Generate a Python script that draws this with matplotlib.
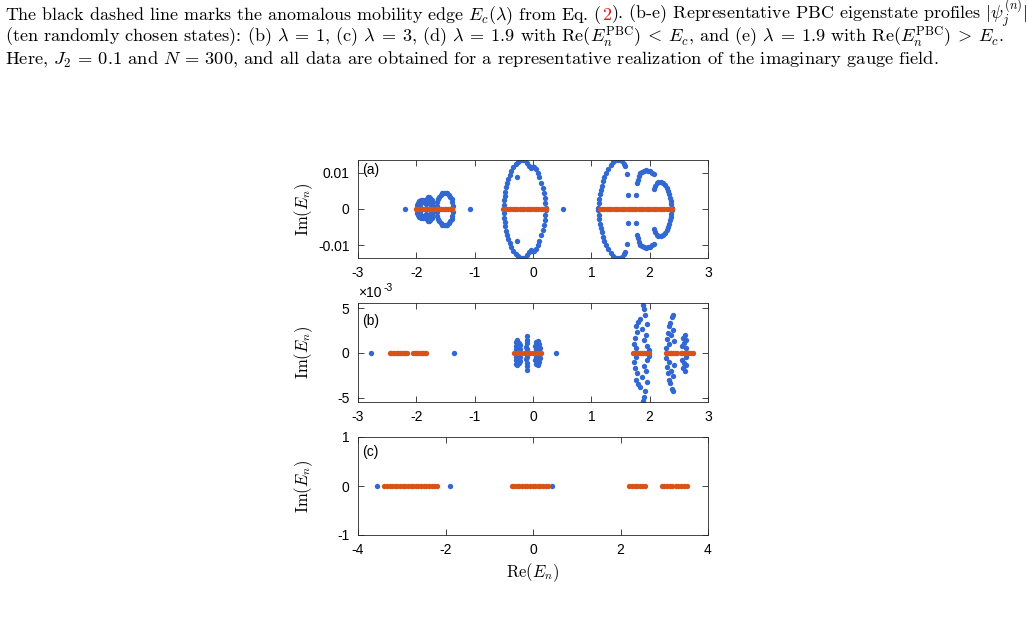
import numpy as np
import matplotlib
matplotlib.use("Agg")
import matplotlib.pyplot as plt

plt.rcParams["mathtext.fontset"] = "cm"
plt.rcParams["axes.unicode_minus"] = False
plt.rcParams["font.family"] = ["Liberation Sans", "DejaVu Sans"]

BLUE = "#3168d2"
ORANGE = "#d95319"

# ---------------- panel (a) ----------------
# blue: upper half of complex-conjugate pairs (x = Re, y = Im)
a_blue_x = [-1.99, -1.985, -1.97, -1.95, -1.92, -1.89, -1.86, -1.83, -1.80,
            -1.82, -1.80, -1.78, -1.76, -1.74, -1.725, -1.72,
            -1.96, -1.93, -1.90, -1.86, -1.83, -1.79, -1.76,
            -1.373, -1.382, -1.397, -1.416, -1.44, -1.467, -1.495, -1.525,
            -1.553, -1.58, -1.604, -1.623, -1.638, -1.647,
            -0.495, -0.49, -0.482, -0.472, -0.46, -0.445, -0.425, -0.40, -0.37,
            -0.335, -0.295, -0.25, -0.205, -0.165, -0.13, -0.10, -0.07, -0.04,
            -0.01, 0.02, 0.05, 0.08, 0.11, 0.14, 0.165, 0.185, 0.20, 0.21, 0.215,
            -0.28,
            1.12, 1.125, 1.135, 1.148, 1.163, 1.18, 1.20, 1.225, 1.255, 1.29,
            1.33, 1.375, 1.42, 1.46, 1.50, 1.53, 1.555, 1.575,
            1.61, 1.63, 1.77, 1.785,
            1.80, 1.815, 1.84, 1.87, 1.905, 1.94, 1.975, 2.01, 2.045, 2.075,
            2.07, 2.09, 2.12, 2.15, 2.19, 2.23, 2.26, 2.29, 2.315, 2.335,
            2.35, 2.362, 2.372, 2.377]
a_blue_y = [0.0004, 0.0011, 0.0017, 0.0022, 0.0025, 0.0026, 0.0026, 0.0024, 0.0020,
            0.0028, 0.0032, 0.0033, 0.0031, 0.0025, 0.0017, 0.0008,
            0.0008, 0.0012, 0.0018, 0.0020, 0.0015, 0.0022, 0.0014,
            0.0009, 0.0018, 0.00265, 0.0033, 0.0039, 0.0043, 0.0045, 0.0045,
            0.0043, 0.0039, 0.0033, 0.00265, 0.0018, 0.0009,
            0.0012, 0.0024, 0.0036, 0.0048, 0.0060, 0.0072, 0.0084, 0.0095, 0.0106,
            0.0116, 0.0124, 0.0130, 0.0134, 0.0136, 0.0134, 0.0128, 0.0118, 0.0114,
            0.0116, 0.0116, 0.0110, 0.0099, 0.0087, 0.0073, 0.0059, 0.0045, 0.0031, 0.0017, 0.0004,
            0.0089,
            0.0004, 0.0016, 0.0028, 0.0040, 0.0052, 0.0064, 0.0076, 0.0088, 0.0100, 0.0111,
            0.0121, 0.0129, 0.0134, 0.0136, 0.0135, 0.0131, 0.0124, 0.0118,
            0.0097, 0.0039, 0.0039, 0.0073,
            0.0080, 0.0090, 0.0098, 0.0103, 0.0106, 0.0107, 0.0106, 0.0104, 0.0100, 0.0096,
            0.0055, 0.0064, 0.0071, 0.0074, 0.0074, 0.0071, 0.0066, 0.0058, 0.0049, 0.0040,
            0.0031, 0.0022, 0.0013, 0.0004]
a_blue_real = [-2.19, -1.08, 0.51]
a_orange = [-2.00, -1.97, -1.94, -1.91, -1.88, -1.85, -1.82, -1.79, -1.76, -1.73, -1.71,
            -1.665, -1.635, -1.605, -1.575, -1.545, -1.515, -1.485, -1.455, -1.425, -1.395, -1.385,
            -0.51, -0.47, -0.43, -0.39, -0.35, -0.31, -0.27, -0.23, -0.19, -0.15, -0.11,
            -0.07, -0.03, 0.01, 0.05, 0.09, 0.13, 0.17, 0.21, 0.23,
            1.14, 1.18, 1.22, 1.26, 1.30, 1.34, 1.38, 1.42, 1.46, 1.50, 1.54, 1.58, 1.62, 1.66, 1.69,
            1.73, 1.77, 1.81, 1.85, 1.89, 1.93, 1.97, 2.01, 2.05, 2.09, 2.13, 2.17, 2.21, 2.25,
            2.29, 2.33, 2.37, 2.39]

# ---------------- panel (b) ----------------  (Im in units of 1e-3)
b_blue_x = [-0.30, -0.27, -0.24, -0.29, -0.25, -0.22, -0.30, -0.23, -0.28,
            -0.11, -0.11, -0.10, -0.12, -0.10,
            0.05, 0.09, 0.11, 0.04, 0.08, 0.12, 0.05, 0.10,
            1.88, 1.90, 1.92, 1.83, 1.80, 1.95, 1.76, 1.87, 1.78, 1.94, 1.74, 1.90,
            1.73, 1.96, 1.77, 1.99,
            2.40, 2.38, 2.35, 2.33, 2.40, 2.31, 2.36, 2.29, 2.42, 2.33, 2.28,
            2.60, 2.57, 2.62, 2.58, 2.55, 2.63]
b_blue_y = [1.2, 1.4, 1.1, 0.8, 0.7, 0.9, 0.4, 0.4, 0.2,
            1.9, 1.5, 1.1, 0.7, 0.4,
            1.2, 1.3, 1.0, 0.8, 0.7, 0.6, 0.4, 0.3,
            5.4, 4.9, 4.3, 3.8, 3.5, 3.3, 3.0, 2.7, 2.3, 2.0, 1.7, 1.5,
            1.0, 0.8, 0.5, 0.3,
            4.3, 4.0, 3.4, 3.0, 2.6, 2.2, 2.0, 1.6, 1.3, 1.0, 0.6,
            2.0, 1.7, 1.4, 1.1, 0.8, 0.5]
b_blue_real = [-2.78, -1.354, 0.389]
b_orange = [-2.46, -2.43, -2.40, -2.37, -2.34, -2.31, -2.28, -2.25, -2.22, -2.19, -2.165,
            -2.06, -2.03, -2.00, -1.97, -1.94, -1.91, -1.88, -1.85, -1.835,
            -0.33, -0.30, -0.27, -0.24, -0.21, -0.15, -0.12, -0.09, -0.06,
            0.0, 0.03, 0.06, 0.09, 0.12, 0.145,
            1.71, 1.74, 1.77, 1.80, 1.83, 1.86, 1.89, 1.92, 1.95, 1.98,
            2.28, 2.31, 2.34, 2.37, 2.40, 2.43, 2.46,
            2.53, 2.56, 2.59, 2.62, 2.65, 2.68, 2.71, 2.74]

# ---------------- panel (c) ----------------
c_blue_real = [-3.573, -1.897, 0.427]
c_orange = [-3.40, -3.34, -3.28, -3.22, -3.16, -3.10, -3.04, -2.98, -2.92, -2.86, -2.80,
            -2.74, -2.68, -2.62, -2.56, -2.50, -2.44, -2.38, -2.32, -2.26, -2.20,
            -0.49, -0.43, -0.37, -0.31, -0.25, -0.19, -0.13, -0.07, -0.01, 0.05, 0.11,
            0.17, 0.23, 0.29, 0.35,
            2.20, 2.26, 2.32, 2.38, 2.44, 2.50, 2.56,
            2.94, 3.00, 3.06, 3.12, 3.17,
            3.26, 3.32, 3.38, 3.44, 3.51]

W, H = 1027, 632
fig = plt.figure(figsize=(W / 100, H / 100), dpi=100)


def px_axes(left, top, right, bottom):
    return fig.add_axes([left / W, 1 - bottom / H, (right - left) / W, (bottom - top) / H])


def style(ax):
    for s in ax.spines.values():
        s.set_color("#262626")
        s.set_linewidth(0.6)
    ax.tick_params(direction="in", top=True, right=True, length=4, width=0.6,
                   labelsize=10, colors="#262626", labelcolor="black", pad=6)
    ax.set_ylabel(r"$\mathrm{Im}(E_n)$", fontsize=12, va="center")
    ax.yaxis.set_label_coords(-0.154, 0.5)


MS = 15

ax_a = px_axes(358, 160, 708, 258)
ax_a.scatter(a_blue_x, a_blue_y, s=MS, c=BLUE, lw=0, zorder=2)
ax_a.scatter(a_blue_x, -np.array(a_blue_y), s=MS, c=BLUE, lw=0, zorder=2)
ax_a.scatter(a_blue_real, np.zeros(len(a_blue_real)), s=MS, c=BLUE, lw=0, zorder=2)
ax_a.scatter(a_orange, np.zeros(len(a_orange)), s=MS, c=ORANGE, lw=0, zorder=3)
ax_a.set_xlim(-3, 3)
ax_a.set_ylim(-0.0135, 0.0135)
ax_a.set_xticks(range(-3, 4))
ax_a.set_yticks([-0.01, 0, 0.01])
ax_a.set_yticklabels(["-0.01", "0", "0.01"])
style(ax_a)
ax_a.text(0.012, 0.965, "(a)", transform=ax_a.transAxes, va="top", fontsize=10)

ax_b = px_axes(358, 303, 708, 402)
by = np.array(b_blue_y) * 1e-3
ax_b.scatter(b_blue_x, by, s=MS, c=BLUE, lw=0, zorder=2)
ax_b.scatter(b_blue_x, -by, s=MS, c=BLUE, lw=0, zorder=2)
ax_b.scatter(b_blue_real, np.zeros(len(b_blue_real)), s=MS, c=BLUE, lw=0, zorder=2)
ax_b.scatter(b_orange, np.zeros(len(b_orange)), s=MS, c=ORANGE, lw=0, zorder=3)
ax_b.set_xlim(-3, 3)
ax_b.set_ylim(-5.5e-3, 5.6e-3)
ax_b.set_xticks(range(-3, 4))
ax_b.set_yticks([-5e-3, 0, 5e-3])
ax_b.set_yticklabels(["-5", "0", "5"])
style(ax_b)
ax_b.text(0.012, 0.89, "(b)", transform=ax_b.transAxes, va="top", fontsize=10)
ax_b.text(0.0, 1.03, "\u00d710", transform=ax_b.transAxes, va="bottom", fontsize=10)
ax_b.text(0.073, 1.1, "-3", transform=ax_b.transAxes, va="bottom", fontsize=7.5)

ax_c = px_axes(358, 437, 708, 535)
ax_c.scatter(c_blue_real, np.zeros(len(c_blue_real)), s=MS, c=BLUE, lw=0, zorder=2)
ax_c.scatter(c_orange, np.zeros(len(c_orange)), s=MS, c=ORANGE, lw=0, zorder=3)
ax_c.set_xlim(-4, 4)
ax_c.set_ylim(-1, 1)
ax_c.set_xticks([-4, -2, 0, 2, 4])
ax_c.set_yticks([-1, 0, 1])
style(ax_c)
ax_c.text(0.012, 0.92, "(c)", transform=ax_c.transAxes, va="top", fontsize=10)
ax_c.set_xlabel(r"$\mathrm{Re}(E_n)$", fontsize=12, va="center")
ax_c.xaxis.set_label_coords(0.5, -0.38)

# ---------------- caption ----------------
CAP = dict(family="cmr10", va="baseline")
line1a = r"The black dashed line marks the anomalous mobility edge $E_c(\lambda)$ from Eq. ("
line1b = r"). (b-e) Representative PBC eigenstate profiles $|\psi_j^{(n)}|$"
line2 = (r"(ten randomly chosen states): (b) $\lambda\:=\:1$, (c) $\lambda\:=\:3$, "
         r"(d) $\lambda\:=\:1.9$ with Re$(E_n^{\mathrm{PBC}})\:<\:E_c$, and "
         r"(e) $\lambda\:=\:1.9$ with Re$(E_n^{\mathrm{PBC}})\:>\:E_c$.")
line3 = (r"Here, $J_2\,=\,0.1$ and $N\,=\,300$, and all data are obtained for a representative "
         r"realization of the imaginary gauge field.")

x0 = 5 / W
t1 = fig.text(x0, 1 - 20 / H, line1a, fontsize=12.95, **CAP)
fig.text(x0, 1 - 43 / H, line2, fontsize=13.1, **CAP)
fig.text(x0, 1 - 64 / H, line3, fontsize=13.3, **CAP)
fig.canvas.draw()
bb = t1.get_window_extent()
t2 = fig.text(bb.x1 / W, 1 - 20 / H, "2", color="#e8161a", fontsize=12.95, **CAP)
fig.canvas.draw()
bb2 = t2.get_window_extent()
fig.text(bb2.x1 / W, 1 - 20 / H, line1b, fontsize=12.95, **CAP)

fig.savefig("out.png", dpi=100)
